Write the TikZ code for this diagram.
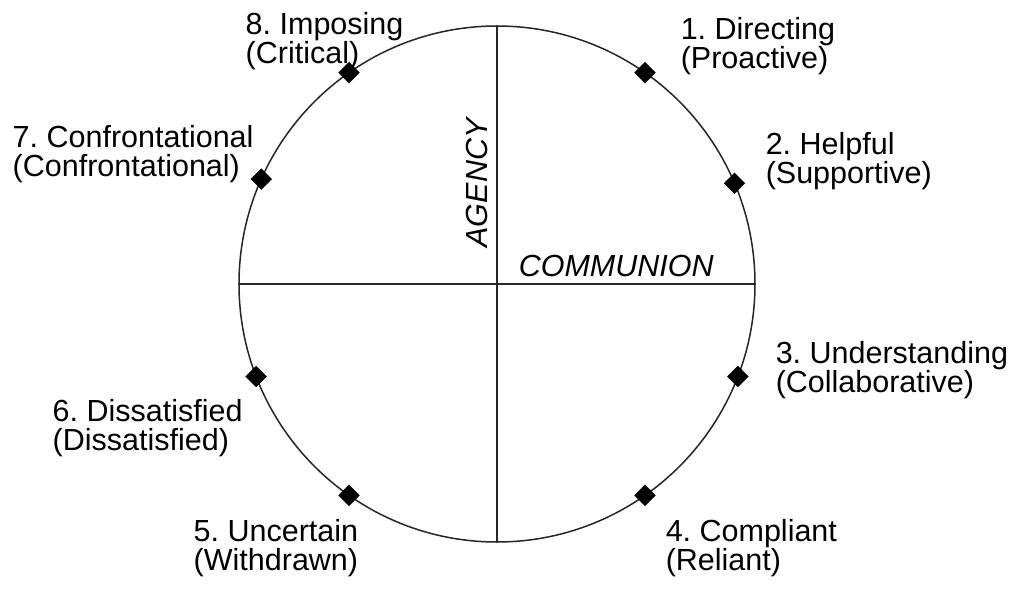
\documentclass[tikz,border=0pt]{standalone}
\usepackage{fontspec}
\setmainfont{Liberation Sans}
\usetikzlibrary{shapes.geometric}
\frenchspacing
\begin{document}
\begin{tikzpicture}[x=1pt, y=1pt, line width=1.5pt,
    ring/.style={circle, draw=black!85, minimum size=516pt, inner sep=0pt, outer sep=0pt},
    marker/.style={diamond, fill, inner sep=0pt, minimum size=22pt},
    lbl/.style={anchor=north west, inner sep=0pt, align=left, font=\fontsize{30.5}{29}\selectfont},
    axis/.style={inner sep=0pt, font=\fontsize{30.5}{29}\selectfont\itshape}]
    \useasboundingbox (-497,284) rectangle (520,-305);
    \node[ring](c) at (0,0){};
    \draw[black!85] (c.north) -- (c.south);
    \draw[black!85] (c.west) -- (c.east);

\foreach \n/\a in {1/55, 2/23, 3/339, 4/305, 5/235, 6/201, 7/156, 8/125}{
    \node[marker](m\n) at (c.\a){};}

    \node[lbl](l1) at (183,267){1. Directing\\(Proactive)};
    \node[lbl](l2) at (268,152){2. Helpful\\(Supportive)};
    \node[lbl](l3) at (278,-57){3. Understanding\\(Collaborative)};
    \node[lbl](l4) at (168,-235){4. Compliant\\(Reliant)};
    \node[lbl](l5) at (-304,-235){5. Uncertain\\(Withdrawn)};
    \node[lbl](l6) at (-445,-115){6. Dissatisfied\\(Dissatisfied)};
    \node[lbl](l7) at (-485,159){7. Confrontational\\(Confrontational)};
    \node[lbl](l8) at (-252,272){8. Imposing\\(Critical)};
    \node[axis, rotate=90](agency) at (-20,101){AGENCY};
    \node[axis, anchor=base west](communion) at (21,8){COMMUNION};
\end{tikzpicture}
\end{document}
